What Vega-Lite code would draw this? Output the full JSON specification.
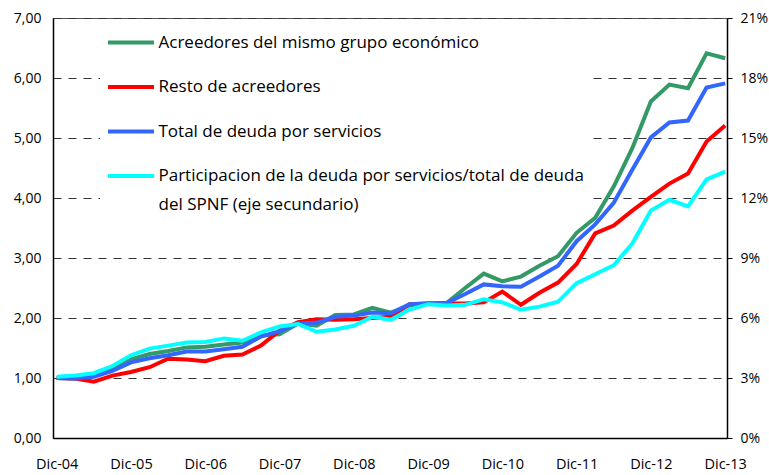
{
  "$schema": "https://vega.github.io/schema/vega-lite/v6.json",
  "width": 674,
  "height": 420,
  "autosize": {"type": "none"},
  "padding": {"left": 53, "top": 18, "right": 42, "bottom": 37},
  "background": "white",
  "config": {
    "view": {"stroke": "#555", "strokeWidth": 1},
    "font": "Open Sans"
  },
  "data": {
    "values": [
      {"q": 0, "g": 1.00, "r": 1.00, "b": 1.00, "c": 3.06},
      {"q": 1, "g": 0.99, "r": 0.99, "b": 0.99, "c": 3.12},
      {"q": 2, "g": 1.04, "r": 0.94, "b": 1.02, "c": 3.24},
      {"q": 3, "g": 1.16, "r": 1.04, "b": 1.12, "c": 3.60},
      {"q": 4, "g": 1.31, "r": 1.10, "b": 1.26, "c": 4.14},
      {"q": 5, "g": 1.40, "r": 1.18, "b": 1.33, "c": 4.47},
      {"q": 6, "g": 1.45, "r": 1.32, "b": 1.38, "c": 4.62},
      {"q": 7, "g": 1.51, "r": 1.31, "b": 1.44, "c": 4.77},
      {"q": 8, "g": 1.52, "r": 1.28, "b": 1.44, "c": 4.80},
      {"q": 9, "g": 1.56, "r": 1.37, "b": 1.48, "c": 4.98},
      {"q": 10, "g": 1.59, "r": 1.39, "b": 1.52, "c": 4.86},
      {"q": 11, "g": 1.71, "r": 1.54, "b": 1.69, "c": 5.28},
      {"q": 12, "g": 1.73, "r": 1.79, "b": 1.78, "c": 5.58},
      {"q": 13, "g": 1.91, "r": 1.93, "b": 1.91, "c": 5.70},
      {"q": 14, "g": 1.87, "r": 1.98, "b": 1.92, "c": 5.31},
      {"q": 15, "g": 2.05, "r": 1.97, "b": 2.02, "c": 5.43},
      {"q": 16, "g": 2.06, "r": 1.98, "b": 2.04, "c": 5.61},
      {"q": 17, "g": 2.17, "r": 2.00, "b": 2.09, "c": 6.06},
      {"q": 18, "g": 2.09, "r": 2.02, "b": 2.08, "c": 5.91},
      {"q": 19, "g": 2.21, "r": 2.23, "b": 2.23, "c": 6.42},
      {"q": 20, "g": 2.24, "r": 2.24, "b": 2.24, "c": 6.69},
      {"q": 21, "g": 2.25, "r": 2.24, "b": 2.25, "c": 6.63},
      {"q": 22, "g": 2.50, "r": 2.24, "b": 2.40, "c": 6.66},
      {"q": 23, "g": 2.74, "r": 2.26, "b": 2.56, "c": 6.93},
      {"q": 24, "g": 2.61, "r": 2.44, "b": 2.53, "c": 6.78},
      {"q": 25, "g": 2.69, "r": 2.22, "b": 2.52, "c": 6.42},
      {"q": 26, "g": 2.87, "r": 2.42, "b": 2.69, "c": 6.57},
      {"q": 27, "g": 3.03, "r": 2.59, "b": 2.87, "c": 6.81},
      {"q": 28, "g": 3.42, "r": 2.90, "b": 3.28, "c": 7.74},
      {"q": 29, "g": 3.67, "r": 3.41, "b": 3.56, "c": 8.19},
      {"q": 30, "g": 4.19, "r": 3.54, "b": 3.92, "c": 8.64},
      {"q": 31, "g": 4.83, "r": 3.79, "b": 4.47, "c": 9.72},
      {"q": 32, "g": 5.61, "r": 4.02, "b": 5.01, "c": 11.37},
      {"q": 33, "g": 5.89, "r": 4.24, "b": 5.26, "c": 11.91},
      {"q": 34, "g": 5.83, "r": 4.41, "b": 5.29, "c": 11.58},
      {"q": 35, "g": 6.41, "r": 4.94, "b": 5.84, "c": 12.93},
      {"q": 36, "g": 6.33, "r": 5.21, "b": 5.91, "c": 13.32}
    ]
  },
  "encoding": {
    "x": {
      "field": "q",
      "type": "quantitative",
      "scale": {"domain": [-0.2, 36.1], "nice": false, "zero": false},
      "axis": {
        "title": null,
        "values": [0, 4, 8, 12, 16, 20, 24, 28, 32, 36],
        "labelExpr": "'Dic-' + ((datum.value / 4 + 4) < 10 ? '0' : '') + (datum.value / 4 + 4)",
        "ticks": false,
        "grid": false,
        "domainColor": "black",
        "domainWidth": 1.5,
        "labelColor": "black",
        "labelFontSize": 14.5,
        "labelPadding": 19,
        "labelFont": "Open Sans"
      }
    }
  },
  "layer": [
    {
      "transform": [{"fold": ["g", "r", "b"], "as": ["k", "v"]}],
      "mark": {"type": "line", "strokeWidth": 4},
      "encoding": {
        "y": {
          "field": "v",
          "type": "quantitative",
          "scale": {"domain": [0, 7], "nice": false},
          "axis": {
            "title": null,
            "orient": "left",
            "values": [0, 1, 2, 3, 4, 5, 6, 7],
            "labelExpr": "replace(format(datum.value, '.2f'), '.', ',')",
            "grid": true,
            "gridDash": [8, 7],
            "gridColor": "#333",
            "gridWidth": 1,
            "ticks": false,
            "domainColor": "black",
            "domainWidth": 1.5,
            "labelColor": "black",
            "labelFontSize": 14,
            "labelPadding": 12,
            "labelFont": "Open Sans"
          }
        },
        "color": {
          "field": "k",
          "type": "nominal",
          "sort": ["g", "r", "b", "c"],
          "scale": {"domain": ["g", "r", "b", "c"], "range": ["#339966", "#FF0000", "#3366FF", "#00FFFF"]},
          "legend": {
            "title": null,
            "orient": "none",
            "legendX": 47,
            "legendY": 5,
            "symbolType": "M-2,0H2",
            "symbolSize": 529,
            "symbolOffset": 11.5,
            "symbolStrokeWidth": 4,
            "labelFontSize": 17,
            "labelFont": "Open Sans",
            "labelColor": "black",
            "labelLimit": 1000,
            "labelOffset": 14,
            "rowPadding": 22.5,
            "fillColor": "white",
            "padding": 6,
            "labelExpr": "datum.value == 'g' ? 'Acreedores del mismo grupo económico' : datum.value == 'r' ? 'Resto de acreedores' : datum.value == 'b' ? 'Total de deuda por servicios' : ['Participacion de la deuda por servicios/total de deuda', 'del SPNF (eje secundario)']",
            "encode": {
              "labels": {
                "update": {
                  "lineHeight": {"value": 29}
                }
              }
            }
          }
        }
      }
    },
    {
      "transform": [{"fold": ["c"], "as": ["k", "v"]}],
      "mark": {"type": "line", "strokeWidth": 4},
      "encoding": {
        "y": {
          "field": "v",
          "type": "quantitative",
          "scale": {"domain": [0, 21], "nice": false},
          "axis": {
            "title": null,
            "orient": "right",
            "values": [0, 3, 6, 9, 12, 15, 18, 21],
            "labelExpr": "datum.value + '%'",
            "grid": false,
            "ticks": true,
            "tickSize": 5,
            "tickColor": "black",
            "domainColor": "black",
            "domainWidth": 1.5,
            "labelColor": "black",
            "labelFontSize": 14,
            "labelPadding": 8,
            "labelFont": "Open Sans"
          }
        },
        "color": {
          "field": "k",
          "type": "nominal",
          "sort": ["g", "r", "b", "c"],
          "scale": {"domain": ["g", "r", "b", "c"], "range": ["#339966", "#FF0000", "#3366FF", "#00FFFF"]}
        }
      }
    }
  ],
  "resolve": {"scale": {"y": "independent"}}
}
